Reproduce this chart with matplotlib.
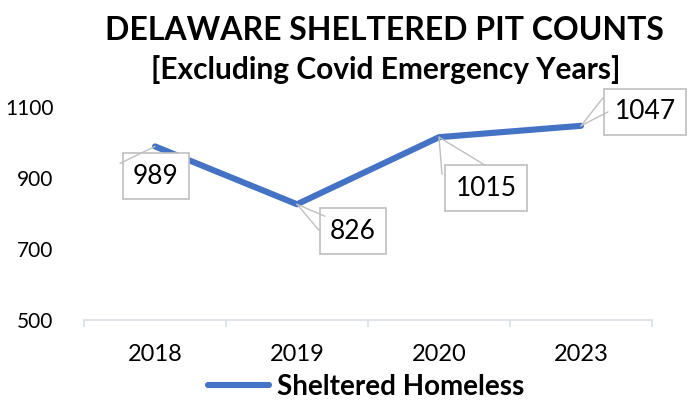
import matplotlib.pyplot as plt

years = ["2018", "2019", "2020", "2023"]
sheltered = [989, 826, 1015, 1047]
y_ticks = [500, 700, 900, 1100]

# label box offsets from the point, in pixels (dx right, dy up)
label_offsets = [(1, -30), (56, -27), (47, -51), (64, 14)]
# leader line ends, in pixels from the point
leader_ends = [[(-35, -17)], [(28, -12), (22, -26)], [(3, -37), (46, -28)], [(22, 28), (27, 14)]]

BLUE = "#4472C4"
FONT = "Lato"
PX = 0.72  # pixels -> points at dpi 100

fig = plt.figure(figsize=(6.89, 4.03), dpi=100)
ax = fig.add_axes([84 / 689, 1 - 320 / 403, (652 - 84) / 689, (320 - 107) / 403])

x = list(range(len(years)))
ax.plot(x, sheltered, color=BLUE, lw=4.4, solid_capstyle="round", label="Sheltered Homeless")

for i, v in enumerate(sheltered):
    dx, dy = label_offsets[i]
    ax.annotate(str(v), xy=(i, v), xytext=(dx * PX, dy * PX), textcoords="offset points",
                ha="center", va="center", fontsize=19, family=FONT,
                bbox=dict(boxstyle="square,pad=0.4", fc="white", ec="#BFBFBF", lw=1.2))
    # leader lines on top of the boxes, like the original
    for ex, ey in leader_ends[i]:
        ax.annotate("", xy=(i, v), xytext=(ex * PX, ey * PX), textcoords="offset points",
                    arrowprops=dict(arrowstyle="-", color="#BFBFBF", lw=1.0,
                                    shrinkA=0, shrinkB=0))

ax.set_xlim(-0.5, len(years) - 0.5)
ax.set_ylim(500, 1100)
ax.set_xticks([i - 0.5 for i in range(len(years) + 1)])
ax.set_xticklabels([])
ax.set_xticks(x, minor=True)
ax.set_xticklabels(years, minor=True, fontsize=17, family=FONT)
ax.tick_params(axis="x", which="major", length=5, color="#D9DEE6", width=1.2)
ax.tick_params(axis="x", which="minor", length=0, pad=17)
ax.set_yticks(y_ticks)
ax.set_yticklabels([str(t) for t in y_ticks], fontsize=15, family=FONT)
ax.tick_params(axis="y", length=0, pad=22)

for side in ["top", "right", "left"]:
    ax.spines[side].set_visible(False)
ax.spines["bottom"].set_color("#D9DEE6")
ax.spines["bottom"].set_linewidth(1.2)

fig.text(384 / 689, 1 - 30 / 403, "DELAWARE SHELTERED PIT COUNTS", ha="center", va="center",
         fontsize=23, fontweight="bold", family=FONT)
fig.text(386 / 689, 1 - 70 / 403, "[Excluding Covid Emergency Years]", ha="center", va="center",
         fontsize=21.5, fontweight="bold", family=FONT)

leg = fig.legend(loc="center", bbox_to_anchor=(366 / 689, 1 - 387 / 403), frameon=False,
                 handlelength=2.2, handletextpad=0.3,
                 prop=dict(family=FONT, weight="bold", size=20))

fig.savefig("out.png", dpi=100)
